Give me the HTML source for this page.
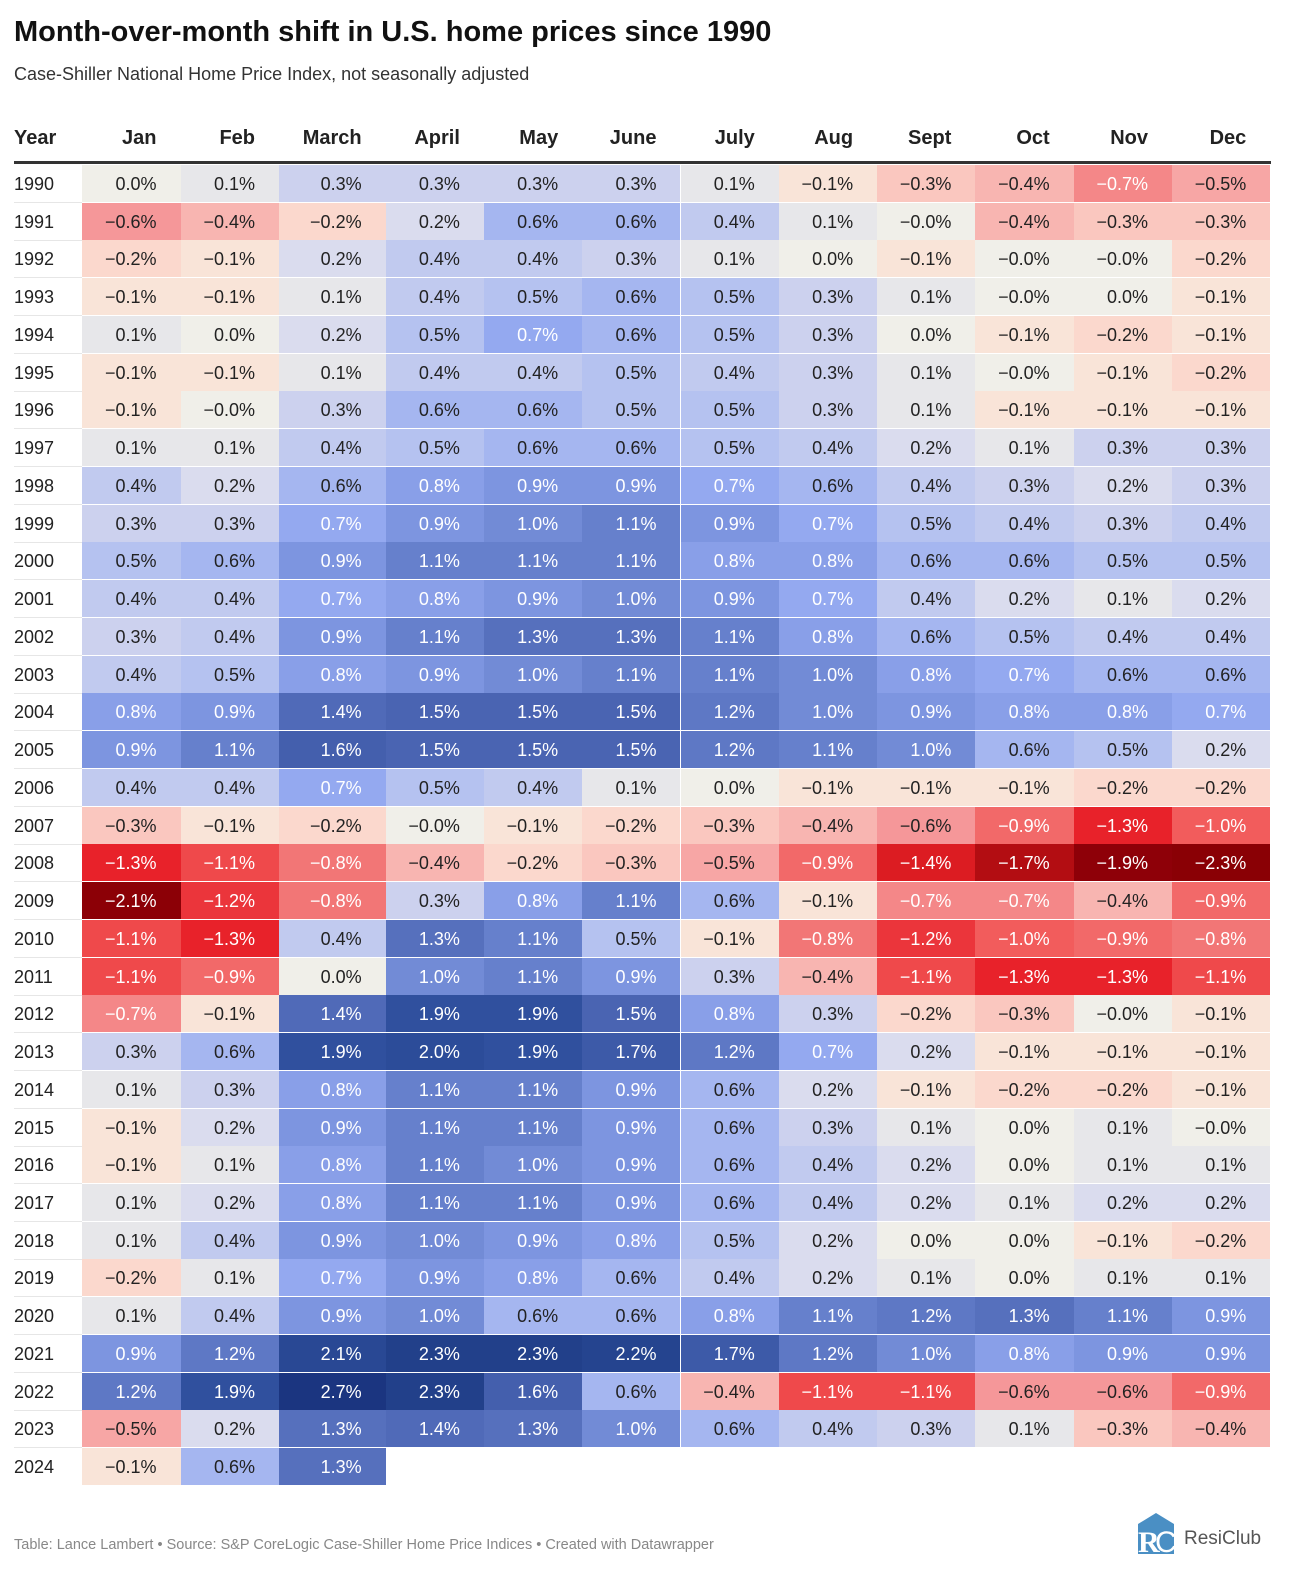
<!DOCTYPE html>
<html><head><meta charset="utf-8">
<style>
body{margin:0;background:#fff;font-family:"Liberation Sans",sans-serif;}
#root{position:relative;width:1292px;height:1576px;overflow:hidden;}
.abs{position:absolute;}
.cell{position:absolute;box-sizing:border-box;text-align:right;padding-right:24px;font-size:18px;line-height:37px;}
.hdr{position:absolute;font-weight:bold;font-size:20px;color:#222;text-align:right;}
</style></head>
<body>
<div id="root">
<div class="abs" style="left:14px;top:16px;font-size:29px;font-weight:bold;color:#111;">Month-over-month shift in U.S. home prices since 1990</div>
<div class="abs" style="left:14px;top:64px;font-size:18px;color:#333;">Case-Shiller National Home Price Index, not seasonally adjusted</div>
<div class="abs" style="left:14px;top:161px;width:1257px;height:3px;background:#333;"></div>
<div class="abs" style="left:14px;top:1537px;font-size:14.5px;color:#888;">Table: Lance Lambert • Source: S&amp;P CoreLogic Case-Shiller Home Price Indices • Created with Datawrapper</div>
<div class="abs" style="left:1134px;top:1512px;">
<svg width="150" height="44" viewBox="0 0 150 44">
<polygon points="4,12 22,1 40,12 40,42 4,42" fill="#4a8fc4"/>
<text x="4" y="40" font-family="Liberation Serif,serif" font-size="30" font-weight="bold" fill="#fff">R</text>
<text x="21" y="40" font-family="Liberation Sans,sans-serif" font-size="30" fill="#fff">C</text>
<text x="50" y="32" font-family="Liberation Sans,sans-serif" font-size="19" fill="#555">ResiClub</text>
</svg></div>
</div>
<script>
const months=["Jan","Feb","March","April","May","June","July","Aug","Sept","Oct","Nov","Dec"];
const years=[1990,1991,1992,1993,1994,1995,1996,1997,1998,1999,2000,2001,2002,2003,2004,2005,2006,2007,2008,2009,2010,2011,2012,2013,2014,2015,2016,2017,2018,2019,2020,2021,2022,2023,2024];
const values=[
[0.0,0.1,0.3,0.3,0.3,0.3,0.1,-0.1,-0.3,-0.4,-0.7,-0.5],
[-0.6,-0.4,-0.2,0.2,0.6,0.6,0.4,0.1,-0.0,-0.4,-0.3,-0.3],
[-0.2,-0.1,0.2,0.4,0.4,0.3,0.1,0.0,-0.1,-0.0,-0.0,-0.2],
[-0.1,-0.1,0.1,0.4,0.5,0.6,0.5,0.3,0.1,-0.0,0.0,-0.1],
[0.1,0.0,0.2,0.5,0.7,0.6,0.5,0.3,0.0,-0.1,-0.2,-0.1],
[-0.1,-0.1,0.1,0.4,0.4,0.5,0.4,0.3,0.1,-0.0,-0.1,-0.2],
[-0.1,-0.0,0.3,0.6,0.6,0.5,0.5,0.3,0.1,-0.1,-0.1,-0.1],
[0.1,0.1,0.4,0.5,0.6,0.6,0.5,0.4,0.2,0.1,0.3,0.3],
[0.4,0.2,0.6,0.8,0.9,0.9,0.7,0.6,0.4,0.3,0.2,0.3],
[0.3,0.3,0.7,0.9,1.0,1.1,0.9,0.7,0.5,0.4,0.3,0.4],
[0.5,0.6,0.9,1.1,1.1,1.1,0.8,0.8,0.6,0.6,0.5,0.5],
[0.4,0.4,0.7,0.8,0.9,1.0,0.9,0.7,0.4,0.2,0.1,0.2],
[0.3,0.4,0.9,1.1,1.3,1.3,1.1,0.8,0.6,0.5,0.4,0.4],
[0.4,0.5,0.8,0.9,1.0,1.1,1.1,1.0,0.8,0.7,0.6,0.6],
[0.8,0.9,1.4,1.5,1.5,1.5,1.2,1.0,0.9,0.8,0.8,0.7],
[0.9,1.1,1.6,1.5,1.5,1.5,1.2,1.1,1.0,0.6,0.5,0.2],
[0.4,0.4,0.7,0.5,0.4,0.1,0.0,-0.1,-0.1,-0.1,-0.2,-0.2],
[-0.3,-0.1,-0.2,-0.0,-0.1,-0.2,-0.3,-0.4,-0.6,-0.9,-1.3,-1.0],
[-1.3,-1.1,-0.8,-0.4,-0.2,-0.3,-0.5,-0.9,-1.4,-1.7,-1.9,-2.3],
[-2.1,-1.2,-0.8,0.3,0.8,1.1,0.6,-0.1,-0.7,-0.7,-0.4,-0.9],
[-1.1,-1.3,0.4,1.3,1.1,0.5,-0.1,-0.8,-1.2,-1.0,-0.9,-0.8],
[-1.1,-0.9,0.0,1.0,1.1,0.9,0.3,-0.4,-1.1,-1.3,-1.3,-1.1],
[-0.7,-0.1,1.4,1.9,1.9,1.5,0.8,0.3,-0.2,-0.3,-0.0,-0.1],
[0.3,0.6,1.9,2.0,1.9,1.7,1.2,0.7,0.2,-0.1,-0.1,-0.1],
[0.1,0.3,0.8,1.1,1.1,0.9,0.6,0.2,-0.1,-0.2,-0.2,-0.1],
[-0.1,0.2,0.9,1.1,1.1,0.9,0.6,0.3,0.1,0.0,0.1,-0.0],
[-0.1,0.1,0.8,1.1,1.0,0.9,0.6,0.4,0.2,0.0,0.1,0.1],
[0.1,0.2,0.8,1.1,1.1,0.9,0.6,0.4,0.2,0.1,0.2,0.2],
[0.1,0.4,0.9,1.0,0.9,0.8,0.5,0.2,0.0,0.0,-0.1,-0.2],
[-0.2,0.1,0.7,0.9,0.8,0.6,0.4,0.2,0.1,0.0,0.1,0.1],
[0.1,0.4,0.9,1.0,0.6,0.6,0.8,1.1,1.2,1.3,1.1,0.9],
[0.9,1.2,2.1,2.3,2.3,2.2,1.7,1.2,1.0,0.8,0.9,0.9],
[1.2,1.9,2.7,2.3,1.6,0.6,-0.4,-1.1,-1.1,-0.6,-0.6,-0.9],
[-0.5,0.2,1.3,1.4,1.3,1.0,0.6,0.4,0.3,0.1,-0.3,-0.4],
[-0.1,0.6,1.3]
];
const stopVals=[-2.3,-1.9,-1.7,-1.4,-1.3,-1.0,-0.8,-0.6,-0.4,-0.2,-0.1,0,0.1,0.2,0.3,0.5,0.7,0.9,1.1,1.3,1.5,1.9,2.3,2.7];
const stopCols=["#8a0005","#8e0008","#b30d12","#dc1c22","#e8222a","#f25c5c","#f27676","#f59799","#f8b5b1","#fbd8cd","#f9e4d8","#f0efe9","#e7e7ea","#dadcee","#ccd1ee","#b5c2f0","#94a9f0","#7d95e0","#6680cc","#5670bd","#4a64b2","#30509e","#22408a","#1b3580"];
function hex(c){return [1,3,5].map(i=>parseInt(c.substr(i,2),16));}
function color(v){
  if(v<=stopVals[0])return stopCols[0];
  for(let i=1;i<stopVals.length;i++){
    if(v<=stopVals[i]){
      const t=(v-stopVals[i-1])/(stopVals[i]-stopVals[i-1]);
      const a=hex(stopCols[i-1]),b=hex(stopCols[i]);
      return "rgb("+a.map((x,k)=>Math.round(x+(b[k]-x)*t)).join(",")+")";
    }
  }
  return stopCols[stopCols.length-1];
}
function colLeft(j){return j<2?82+j*98.5:(j==2?279:385.6+(j-3)*98.3);}
function colW(j){return j==2?106.6:(j<2?98.5:98.3);}
function rowTop(i){return 165+i*37.74;}
const root=document.getElementById('root');
let h=document.createElement('div');
h.className='hdr';h.style.left='14px';h.style.top='127px';h.style.textAlign='left';h.textContent='Year';


root.appendChild(h);
months.forEach((m,j)=>{
  const d=document.createElement('div');
  d.className='hdr';
  d.style.left=colLeft(j)+'px';d.style.width=(colW(j)-24)+'px';d.style.top='127px';
  d.textContent=m;
  
  
  root.appendChild(d);
});
years.forEach((y,i)=>{
  const top=rowTop(i);
  const yl=document.createElement('div');
  yl.className='cell';yl.style.left='14px';yl.style.top=(top+1)+'px';yl.style.textAlign='left';yl.style.color='#222';yl.style.height='37px';
  yl.textContent=y;
  
  
  root.appendChild(yl);
  if(i<years.length-1){
    const ln=document.createElement('div');
    ln.className='abs';ln.style.left='14px';ln.style.width='68px';ln.style.top=(top+37)+'px';ln.style.height='1px';ln.style.background='#e6e6e6';
    
    
    root.appendChild(ln);
  }
  values[i].forEach((v,j)=>{
    const c=document.createElement('div');
    c.className='cell';
    c.style.left=colLeft(j)+'px';c.style.width=colW(j)+'px';c.style.top=top+'px';c.style.height='37px';c.style.lineHeight='38px';
    c.style.background=color(v);
    c.style.color=Math.abs(v)>=0.65?'#fff':'#222';
    const neg=v<0||Object.is(v,-0);
    c.textContent=(neg?'\u2212':'')+Math.abs(v).toFixed(1)+'%';
    
    
    root.appendChild(c);
  });
});
</script>
</body></html>
